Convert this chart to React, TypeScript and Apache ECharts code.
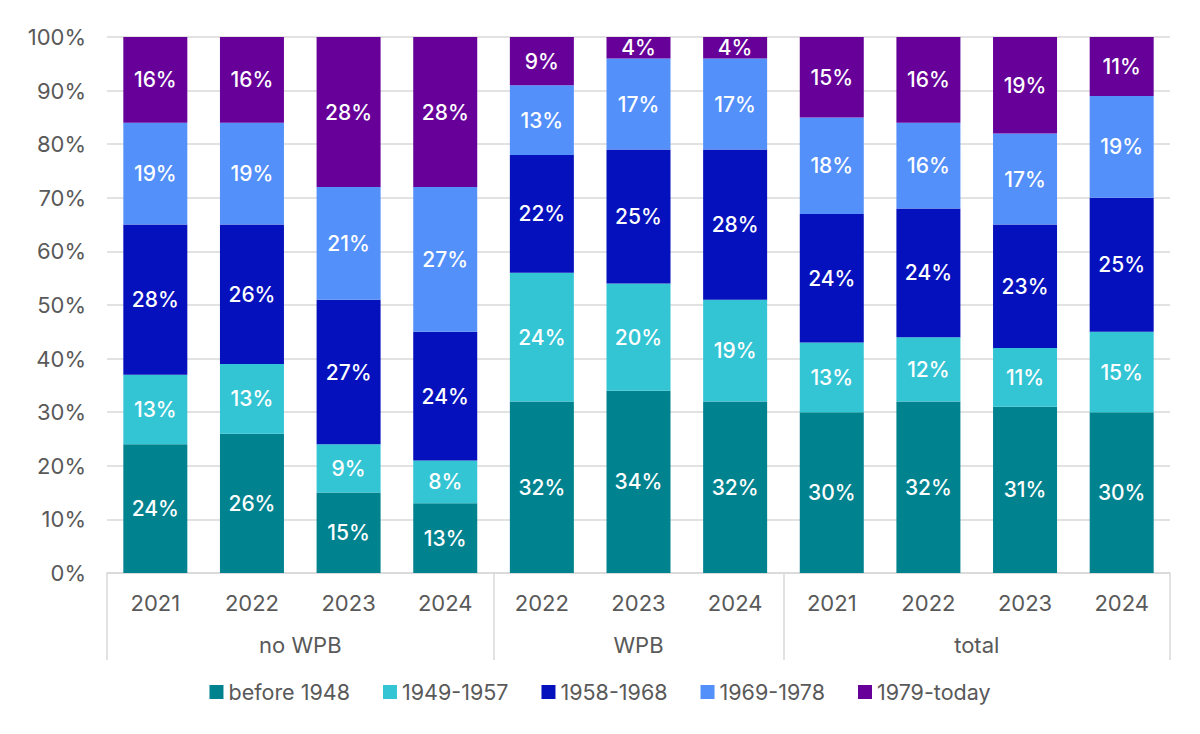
import React, { useEffect, useRef } from "react";
import * as echarts from "echarts";

const years = ["2021", "2022", "2023", "2024", "2022", "2023", "2024", "2021", "2022", "2023", "2024"];
const groups = ["no WPB", "WPB", "total"];
const groupBounds = [0, 4, 7, 11];
const groupCenters = [2, 5.5, 9];

const seriesNames = ["before 1948", "1949-1957", "1958-1968", "1969-1978", "1979-today"];
const before1948 = [24, 26, 15, 13, 32, 34, 32, 30, 32, 31, 30];
const s1949to1957 = [13, 13, 9, 8, 24, 20, 19, 13, 12, 11, 15];
const s1958to1968 = [28, 26, 27, 24, 22, 25, 28, 24, 24, 23, 25];
const s1969to1978 = [19, 19, 21, 27, 13, 17, 17, 18, 16, 17, 19];
const s1979today = [16, 16, 28, 28, 9, 4, 4, 15, 16, 19, 11];
const colors = ["#00838F", "#33C5D4", "#0511BD", "#5390FA", "#660099"];

const FONT = "Inter, 'Liberation Sans', Arial, sans-serif";
const GRAY = "#595959";
const LINE = "#d9d9d9";

export default function App() {
  const ref = useRef<HTMLDivElement>(null);
  useEffect(() => {
    if (!ref.current) return;
    const chart = echarts.init(ref.current, null, { renderer: "svg" });
    const allData = [before1948, s1949to1957, s1958to1968, s1969to1978, s1979today];
    chart.setOption({
      animation: false,
      textStyle: { fontFamily: FONT },
      grid: { left: 99, right: 22, top: 29, bottom: 153 },
      legend: {
        bottom: 18,
        left: "center",
        icon: "rect",
        itemWidth: 14,
        itemHeight: 14,
        itemGap: 33,
        textStyle: { fontSize: 21.5, color: GRAY, fontFamily: FONT },
        data: seriesNames,
      },
      xAxis: [
        {
          type: "category",
          data: years,
          axisLine: { show: true, lineStyle: { color: LINE, width: 1.5 } },
          axisTick: { show: false },
          axisLabel: { fontSize: 22, color: GRAY, margin: 19, fontFamily: FONT },
        },
        {
          type: "value",
          min: 0,
          max: 11,
          position: "bottom",
          axisLine: { show: false },
          splitLine: { show: false },
          axisTick: {
            show: true,
            inside: false,
            length: 87,
            customValues: groupBounds,
            lineStyle: { color: LINE, width: 1.5 },
          },
          axisLabel: {
            show: true,
            customValues: groupCenters,
            margin: 61,
            fontSize: 22,
            color: GRAY,
            fontFamily: FONT,
            formatter: (v: number) => groups[groupCenters.indexOf(v)] ?? "",
          },
        },
      ],
      yAxis: {
        type: "value",
        min: 0,
        max: 100,
        interval: 10,
        axisLine: { show: false },
        axisTick: { show: false },
        splitLine: { lineStyle: { color: LINE, width: 1.5 } },
        axisLabel: { formatter: "{value}%", fontSize: 22, color: GRAY, margin: 21, fontFamily: FONT },
      },
      series: seriesNames.map((name, i) => ({
        name,
        type: "bar",
        stack: "total",
        xAxisIndex: 0,
        barWidth: 64,
        data: allData[i],
        itemStyle: { color: colors[i] },
        label: {
          show: true,
          position: "inside",
          formatter: "{c}%",
          color: "#ffffff",
          fontSize: 21,
          fontWeight: 500,
          fontFamily: FONT,
        },
      })),
    });
    return () => chart.dispose();
  }, []);
  return <div ref={ref} style={{ width: 1184, height: 718 }} />;
}
